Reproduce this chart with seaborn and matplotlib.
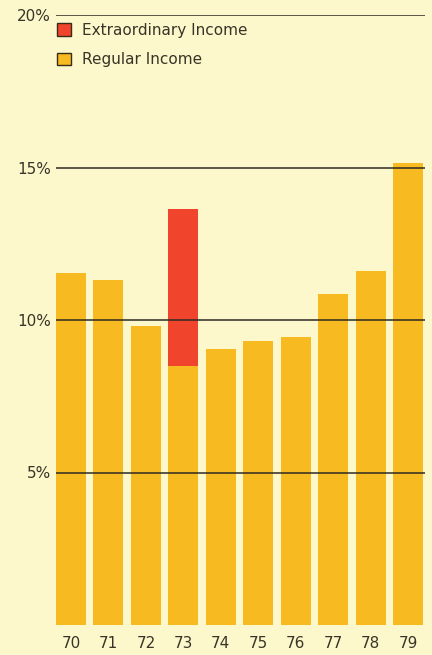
import matplotlib
matplotlib.use("Agg")
import matplotlib.pyplot as plt
from matplotlib.patches import Patch
import seaborn as sns
import pandas as pd

# Return on equity by year, in percent
years = ["70", "71", "72", "73", "74", "75", "76", "77", "78", "79"]
regular_income = [11.55, 11.3, 9.8, 8.5, 9.05, 9.3, 9.45, 10.85, 11.6, 15.15]
extraordinary_income = [0, 0, 0, 5.15, 0, 0, 0, 0, 0, 0]
y_ticks = [5, 10, 15, 20]
y_tick_labels = ["5%", "10%", "15%", "20%"]

BG = "#FCF8CB"
YELLOW = "#F7BA20"
RED = "#F0452C"
INK = "#3A3428"

sns.set_theme(style="white")
plt.rcParams["font.family"] = ["DejaVu Sans"]

fig = plt.figure(figsize=(4.32, 6.55), dpi=100)
fig.patch.set_facecolor(BG)
ax = fig.add_axes([56 / 432, 30 / 655, 369 / 432, 610 / 655])
ax.set_facecolor(BG)

df = pd.DataFrame({"year": years, "regular": regular_income, "extra": extraordinary_income})

sns.barplot(data=df, x="year", y="regular", color=YELLOW, saturation=1,
            width=0.8, linewidth=0, edgecolor=YELLOW, ax=ax, zorder=1)
# Extraordinary income stacked on top of the regular portion
positions = list(range(len(years)))
ax.bar(positions, df["extra"], bottom=df["regular"], width=0.8,
       color=RED, linewidth=0, zorder=1)

ax.set_xlim(-0.40, 9.45)
ax.set_ylim(0, 20)
ax.set_yticks(y_ticks)
ax.set_yticklabels(y_tick_labels)
ax.set_xlabel("")
ax.set_ylabel("")

for y in y_ticks:
    ax.axhline(y, color="#2E2A22", linewidth=1.1, zorder=3)

for s in ax.spines.values():
    s.set_visible(False)

ax.tick_params(axis="y", length=0, pad=3.5, labelsize=11, labelcolor=INK)
ax.tick_params(axis="x", length=0, pad=8, labelsize=11, labelcolor=INK)

handles = [
    Patch(facecolor=RED, edgecolor="#3A2A1A", linewidth=1.0, label="Extraordinary Income"),
    Patch(facecolor=YELLOW, edgecolor="#3A2A1A", linewidth=1.0, label="Regular Income"),
]
leg = ax.legend(handles=handles, loc="upper left", bbox_to_anchor=(0.004, 0.987),
                frameon=False, fontsize=11, handlelength=0.88, handleheight=0.88,
                handletextpad=0.7, labelspacing=0.95, borderpad=0, borderaxespad=0)
for t in leg.get_texts():
    t.set_color(INK)

fig.savefig("out.png", dpi=100, facecolor=BG)
